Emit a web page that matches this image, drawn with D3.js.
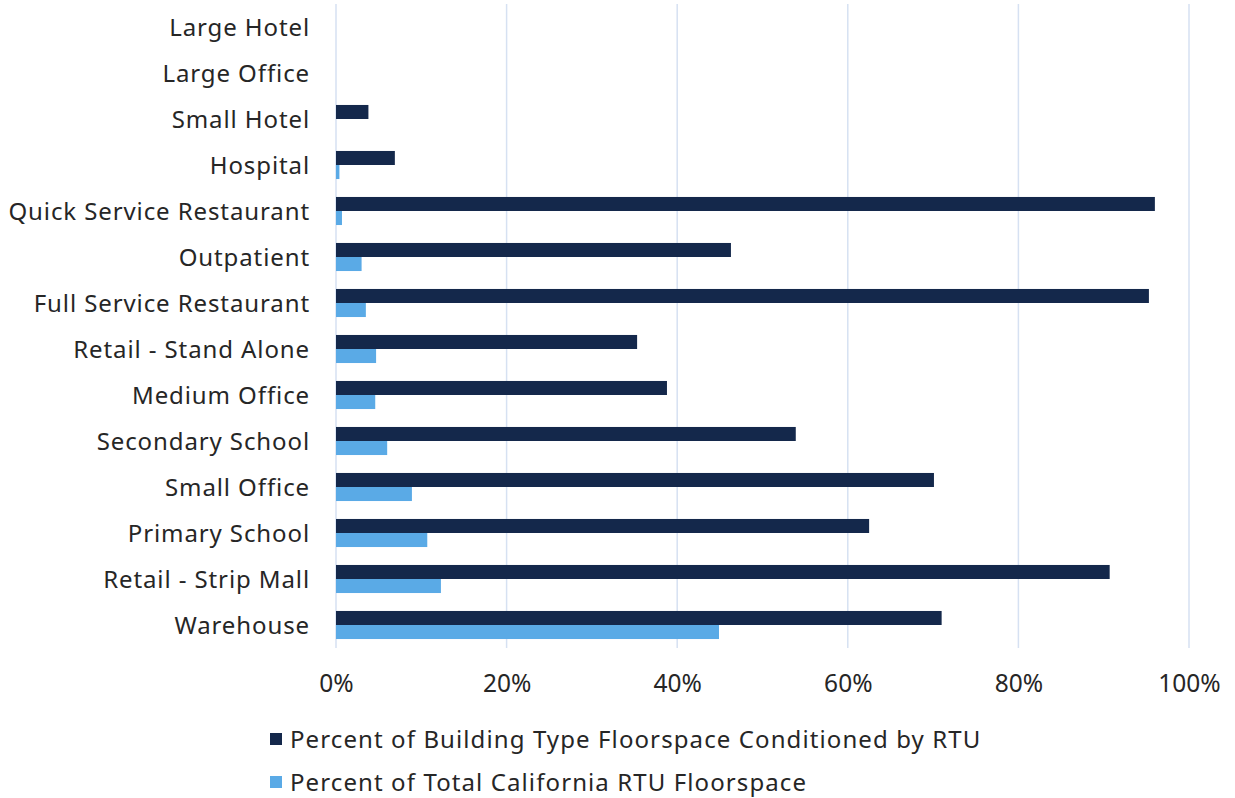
<!DOCTYPE html>
<html>
<head>
<meta charset="utf-8">
<script src="https://cdn.jsdelivr.net/npm/d3@7"></script>
<style>
  body { margin: 0; background: #fff; }
  text { font-family: "Noto Sans", sans-serif; fill: #262626; }
</style>
</head>
<body>
<div id="chart"></div>
<script>
// categories top to bottom
const categories = ['Large Hotel', 'Large Office', 'Small Hotel', 'Hospital', 'Quick Service Restaurant',
    'Outpatient', 'Full Service Restaurant', 'Retail - Stand Alone', 'Medium Office', 'Secondary School',
    'Small Office', 'Primary School', 'Retail - Strip Mall', 'Warehouse'];
const buildingShare = [0, 0, 0.038, 0.069, 0.960, 0.463, 0.953, 0.353, 0.388, 0.539, 0.701, 0.625, 0.907, 0.710];
const totalShare = [0, 0, 0, 0.004, 0.007, 0.030, 0.035, 0.047, 0.046, 0.060, 0.089, 0.107, 0.123, 0.449];
const seriesNames = ['Percent of Building Type Floorspace Conditioned by RTU', 'Percent of Total California RTU Floorspace'];
const seriesColors = ['#14284b', '#5aaae6'];
const tickValues = [0, 0.2, 0.4, 0.6, 0.8, 1.0];

const width = 1235, height = 798;
const fontSize = '24px';
const svg = d3.select('#chart').append('svg')
    .attr('width', width)
    .attr('height', height);

const x = d3.scaleLinear().domain([0, 1]).range([336, 1189]);
const y = d3.scaleBand().domain(categories).range([4, 648]).paddingInner(0.39).paddingOuter(0.195);
const sub = d3.scaleBand().domain([0, 1]).range([0, y.bandwidth()]);

// gridlines
svg.append('g').selectAll('line')
    .data(tickValues)
    .join('line')
    .attr('x1', d => x(d)).attr('x2', d => x(d))
    .attr('y1', 4).attr('y2', 648)
    .attr('stroke', '#d6e1f2')
    .attr('stroke-width', 1.5);

// bars
const series = [buildingShare, totalShare];
series.forEach((vals, si) => {
    svg.append('g').selectAll('rect')
        .data(categories)
        .join('rect')
        .attr('x', x(0))
        .attr('y', d => y(d) + sub(si))
        .attr('width', (d, i) => x(vals[i]) - x(0))
        .attr('height', sub.bandwidth())
        .attr('fill', seriesColors[si]);
});

// category labels
svg.append('g').selectAll('text')
    .data(categories)
    .join('text')
    .attr('x', 310)
    .attr('y', d => y(d) + y.bandwidth() / 2 - 1)
    .attr('text-anchor', 'end')
    .attr('dominant-baseline', 'central')
    .attr('font-size', fontSize)
    .attr('letter-spacing', '0.9px')
    .text(d => d);

// x axis
const xAxis = svg.append('g')
    .attr('transform', 'translate(0,648)')
    .call(d3.axisBottom(x).tickValues(tickValues).tickFormat(d3.format('.0%')).tickSize(0).tickPadding(27));
xAxis.select('.domain').remove();
xAxis.selectAll('text')
    .attr('font-size', '24.5px')
    .attr('font-family', '"Noto Sans", sans-serif')
    .attr('fill', '#262626');

// legend
const legend = svg.append('g');
seriesNames.forEach((name, i) => {
    const ly = 739 + i * 43;
    legend.append('rect')
        .attr('x', 270).attr('y', ly - 6)
        .attr('width', 12).attr('height', 12)
        .attr('fill', seriesColors[i]);
    legend.append('text')
        .attr('x', 290).attr('y', ly - 1)
        .attr('dominant-baseline', 'central')
        .attr('font-size', fontSize)
        .attr('letter-spacing', '1.1px')
        .text(name);
});
</script>
</body>
</html>
